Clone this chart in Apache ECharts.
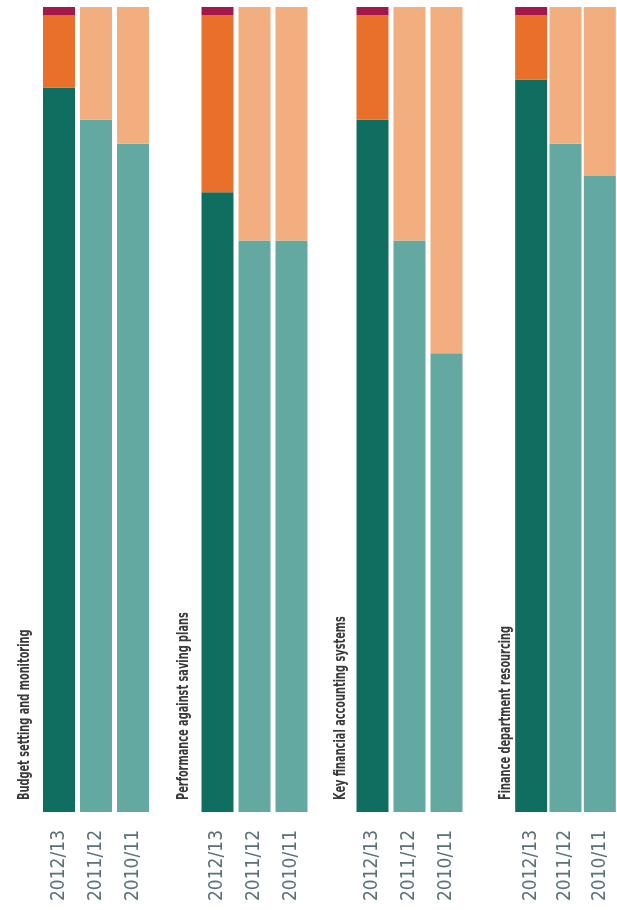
<!DOCTYPE html>
<html>
<head>
<meta charset="utf-8">
<script src="https://cdn.jsdelivr.net/npm/echarts@6/dist/echarts.min.js"></script>
<style>
  html, body { margin: 0; padding: 0; background: #ffffff; }
  #chart { width: 617px; height: 910px; }
</style>
</head>
<body>
<div id="chart"></div>
<script>
// Financial resilience ratings by area, share of councils (%)
const years = ['2012/13', '2011/12', '2010/11'];
const panelTitles = [
  'Budget setting and monitoring',
  'Performance against saving plans',
  'Key financial accounting systems',
  'Finance department resourcing'
];
// Share rated green, amber and red in each year, per area
const greenShare = [[90, 86, 83], [77, 71, 71], [86, 71, 57], [91, 83, 79]];
const amberShare = [[9, 14, 17], [22, 29, 29], [13, 29, 43], [8, 17, 21]];
const redShare   = [[1, 0, 0], [1, 0, 0], [1, 0, 0], [1, 0, 0]];

// Layout of the four panels
const gridLefts = [40.5, 199, 354, 514];
const titleX = [25, 184, 341, 506];
const gridWidth = 111;
const plotTop = 7;
const plotHeight = 805;
const narrowFont = '"Liberation Sans Narrow", "DejaVu Sans Condensed", "Liberation Sans", sans-serif';

const palette = {
  green: ['#0f6e5f', '#63a9a1'],
  amber: ['#e8702a', '#f3ae7f'],
  red: ['#a3174b', '#a3174b']
};
const pick = pair => p => (p.dataIndex === 0 ? pair[0] : pair[1]);

const grids = [], xAxes = [], yAxes = [], series = [], graphics = [];
panelTitles.forEach((title, i) => {
  grids.push({ left: gridLefts[i], top: plotTop, width: gridWidth, height: plotHeight });
  xAxes.push({
    type: 'category', gridIndex: i, data: years,
    axisLine: { show: false }, axisTick: { show: false },
    axisLabel: {
      rotate: 90, margin: 18, fontSize: 19,
      fontFamily: narrowFont, color: '#5b7176'
    }
  });
  yAxes.push({
    type: 'value', gridIndex: i, min: 0, max: 100, show: false,
    splitLine: { show: false }
  });
  const common = { type: 'bar', xAxisIndex: i, yAxisIndex: i, stack: 'p' + i, barWidth: 32, silent: true };
  series.push(Object.assign({ name: 'Green', data: greenShare[i], itemStyle: { color: pick(palette.green) } }, common));
  series.push(Object.assign({ name: 'Amber', data: amberShare[i], itemStyle: { color: pick(palette.amber) } }, common));
  series.push(Object.assign({ name: 'Red', data: redShare[i], itemStyle: { color: pick(palette.red) } }, common));
  // Panel title, set vertically and condensed along its length
  graphics.push({
    type: 'text', x: titleX[i], y: 800, rotation: Math.PI / 2, scaleX: 0.68,
    style: {
      text: title, fill: '#3a3a3a', fontSize: 16, fontWeight: 'bold',
      fontFamily: narrowFont, align: 'left', verticalAlign: 'middle'
    }
  });
});

const chart = echarts.init(document.getElementById('chart'), null, { renderer: 'canvas' });
chart.setOption({
  backgroundColor: '#ffffff',
  animation: false,
  grid: grids,
  xAxis: xAxes,
  yAxis: yAxes,
  series: series,
  graphic: graphics
});
</script>
</body>
</html>
